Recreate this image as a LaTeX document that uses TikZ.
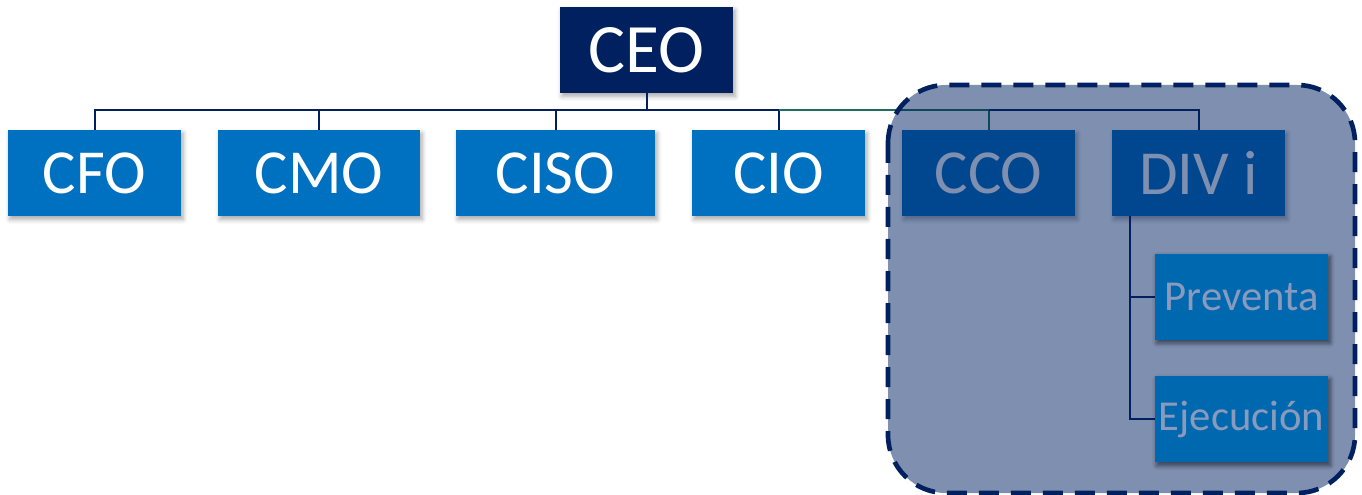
\documentclass[tikz,border=0pt]{standalone}
\usepackage{fontspec}
\setmainfont{Carlito}
\usetikzlibrary{shadows.blur}
\definecolor{navy}{HTML}{002060}
\definecolor{mblue}{HTML}{0070C0}
\definecolor{subblue}{HTML}{0068AE}
\definecolor{subtext}{HTML}{8A9ABD}
\definecolor{linkgreen}{HTML}{1E6E5A}
\tikzset{
  box/.style={fill=mblue, text=white, minimum width=#1, minimum height=64.5pt,
    inner sep=0pt, font=\fontsize{47}{50}\selectfont,
    blur shadow={shadow xshift=1.5pt, shadow yshift=-2.5pt, shadow blur radius=3.5pt, shadow opacity=35}},
  box/.default=129.75pt,
  topbox/.style={box=129.75pt, fill=navy, font=\fontsize{52}{55}\selectfont},
  subbox/.style={fill=subblue, text=subtext, minimum width=129.75pt, minimum height=64.5pt,
    inner sep=0pt, font=\fontsize{32}{35}\selectfont,
    blur shadow={shadow xshift=1.5pt, shadow yshift=-2.5pt, shadow blur radius=3.5pt, shadow opacity=35}},
  link/.style={draw=navy, line width=1.5pt},
  greenlink/.style={draw=linkgreen, line width=1.5pt},
}
\begin{document}
\begin{tikzpicture}[x=0.75pt, y=-0.75pt]
\useasboundingbox (0,0) rectangle (1362,495);
% top level
\node[topbox] (ceo) at (646.5,50) {CEO};
% second level
\node[box] (cfo) at (94.5,173) {CFO};
\node[box=151.5pt] (cmo) at (319,173) {CMO};
\node[box=149.25pt] (ciso) at (555.5,173) {CISO};
\node[box] (cio) at (778.5,173) {CIO};
\node[box] (cco) at (988.5,173) {CCO};
\node[box] (div) at (1198.5,173) {DIV i};
% bus
\coordinate (bus) at (646.5,110);
\draw[link] (ceo.south) -- (bus);
\draw[link] (cfo.north) |- (bus);
\draw[link] (cmo.north) |- (bus);
\draw[link] (ciso.north) |- (bus);
\draw[link] (cio.north) |- (bus);
\draw[greenlink] (cco.north) |- (cio.north |- bus);
\draw[link] (div.north) |- (cco.north |- bus);
% division branch
\coordinate (trunk) at (1130,216);
\node[subbox] (pre) at (1241.5,296.5) {Preventa};
\node[subbox] (eje) at (1241.5,419) {Ejecución};
\draw[link] (trunk) |- (pre.west);
\draw[link] (trunk) |- (eje.west);
% highlighted area
\fill[navy, opacity=0.5, rounded corners=43.5pt] (888,85) rectangle (1355,493);
\draw[navy, line width=3.5pt, dash pattern=on 15pt off 9pt, rounded corners=43.5pt]
  (888,85) rectangle (1355,493);
% sub units over the highlighted area
\node[subbox] at (pre) {Preventa};
\node[subbox] at (eje) {Ejecución};
\end{tikzpicture}
\end{document}
